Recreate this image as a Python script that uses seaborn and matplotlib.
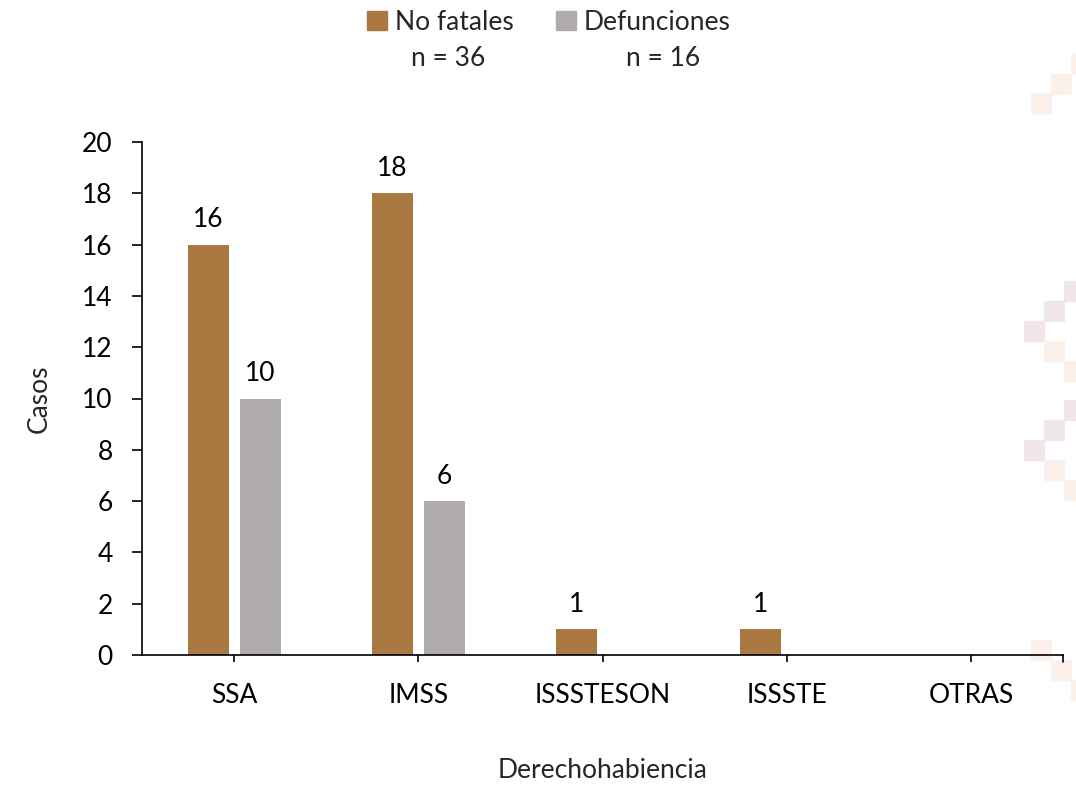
import matplotlib
matplotlib.use("Agg")
import matplotlib.pyplot as plt
from matplotlib.patches import Rectangle
import seaborn as sns
import pandas as pd

categories = ["SSA", "IMSS", "ISSSTESON", "ISSSTE", "OTRAS"]
no_fatales = [16, 18, 1, 1, 0]
defunciones = [10, 6, 0, 0, 0]
series_names = ["No fatales", "Defunciones"]
series_n = ["n = 36", "n = 16"]
colors = ["#AA7942", "#AFACAB"]
yticks = [0, 2, 4, 6, 8, 10, 12, 14, 16, 18, 20]

df = pd.DataFrame({
    "Derechohabiencia": categories * 2,
    "Casos": no_fatales + defunciones,
    "Serie": [series_names[0]] * len(categories) + [series_names[1]] * len(categories),
})

sns.set_theme(style="white")
plt.rcParams["font.family"] = ["Lato", "DejaVu Sans"]
FS = 19

fig = plt.figure(figsize=(10.76, 7.86), dpi=100)

# faint decorative squares (behind everything)
pink = "#F1E6EA"
peach = "#FCF0EA"
deco = [
    (1071, 54, peach), (1051, 74, peach), (1031, 93, peach),
    (1064, 281, pink), (1044, 301, pink), (1024, 321, pink), (1044, 341, peach), (1064, 361, peach),
    (1064, 400, pink), (1044, 420, pink), (1024, 440, pink), (1044, 460, peach), (1064, 480, peach),
    (1031, 640, peach), (1051, 660, peach), (1071, 680, peach),
]
for x0, y0, c in deco:
    fig.patches.append(Rectangle((x0 / 1076, 1 - (y0 + 20) / 786), 20 / 1076, 20 / 786,
                                 transform=fig.transFigure, color=c, zorder=-10))

ax = fig.add_axes([142 / 1076, 1 - 655 / 786, (1063 - 142) / 1076, (655 - 142) / 786])
ax.patch.set_alpha(0)

sns.barplot(data=df, x="Derechohabiencia", y="Casos", hue="Serie",
            palette=colors, width=0.564, gap=0.21, ax=ax, legend=False,
            linewidth=0, saturation=1)

for cont in ax.containers:
    vals = [b.get_height() for b in cont]
    ax.bar_label(cont, labels=[f"{int(v)}" if v > 0 else "" for v in vals],
                 padding=9, fontsize=FS, color="black")

ax.set_xlim(-0.5, 4.5)
ax.set_ylim(0, 20)
ax.set_yticks(yticks)
ax.set_yticklabels([str(t) for t in yticks], fontsize=FS)
ax.set_xticks(range(len(categories)))
ax.set_xticklabels(categories, fontsize=FS)
ax.tick_params(axis="both", which="both", direction="out", width=1.2,
               color="black", left=True, bottom=True, labelcolor="black")
ax.tick_params(axis="x", length=5, pad=15)
ax.tick_params(axis="y", length=7, pad=14)
ax.plot([4.5, 4.5], [0, -0.28], color="black", lw=1.2, clip_on=False)

for s in ["top", "right"]:
    ax.spines[s].set_visible(False)
for s in ["left", "bottom"]:
    ax.spines[s].set_color("black")
    ax.spines[s].set_linewidth(1.2)

ax.set_xlabel("Derechohabiencia", fontsize=FS, labelpad=36)
ax.set_ylabel("Casos", fontsize=FS, labelpad=22)

handles = [Rectangle((0, 0), 1, 1, color=c) for c in colors]
fig.legend(handles, series_names, loc="center", bbox_to_anchor=(0.51, 1 - 22 / 786),
           ncol=2, frameon=False, fontsize=FS, handlelength=0.75,
           handleheight=0.75, handletextpad=0.3, columnspacing=1.6,
           borderpad=0)
fig.text(448 / 1076, 1 - 58 / 786, series_n[0], ha="center", va="center", fontsize=FS)
fig.text(663 / 1076, 1 - 58 / 786, series_n[1], ha="center", va="center", fontsize=FS)

fig.savefig("out.png", dpi=100)
